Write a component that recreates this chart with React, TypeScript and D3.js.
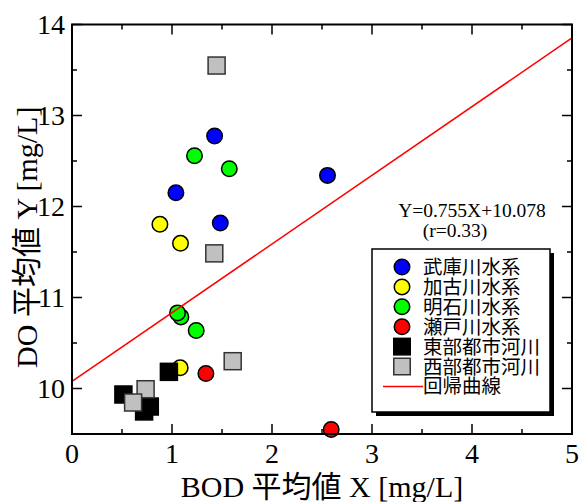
import React from "react";
import * as d3 from "d3";

const seriesNames = ["武庫川水系", "加古川水系", "明石川水系", "瀬戸川水系", "東部都市河川", "西部都市河川"];
const seriesColors = ["#0000ff", "#ffff00", "#00ff00", "#ff0000", "#000000", "#c0c0c0"];
const seriesShapes = ["circle", "circle", "circle", "circle", "square", "square"];

const mukoX = [1.426, 1.039, 1.483, 2.555];
const mukoY = [12.774, 12.151, 11.819, 12.342];
const kakoX = [0.879, 1.085, 1.082];
const kakoY = [11.804, 11.595, 10.227];
const akashiX = [1.225, 1.573, 1.089, 1.055, 1.242];
const akashiY = [12.558, 12.415, 10.787, 10.831, 10.637];
const setoX = [1.339, 2.592];
const setoY = [10.165, 9.55];
const eastX = [0.969, 0.514, 0.778, 0.721];
const eastY = [10.183, 9.934, 9.802, 9.748];
const westX = [1.446, 1.423, 1.607, 0.736, 0.611];
const westY = [13.549, 11.485, 10.3, 9.992, 9.846];

const seriesX = [mukoX, kakoX, akashiX, setoX, eastX, westX];
const seriesY = [mukoY, kakoY, akashiY, setoY, eastY, westY];

const slope = 0.755;
const intercept = 10.078;
const regLabel = "Y=0.755X+10.078";
const rLabel = "(r=0.33)";
const lineLabel = "回帰曲線";

const xTicks = [0, 1, 2, 3, 4, 5];
const yTicks = [10, 11, 12, 13, 14];
const xMinor = [0.5, 1.5, 2.5, 3.5, 4.5];
const yMinor = [10.5, 11.5, 12.5, 13.5];

const xTitle = "BOD 平均値 X [mg/L]";
const yTitle = "DO 平均値 Y [mg/L]";

const FONT = "'Liberation Serif', 'Times New Roman', 'Noto Sans CJK JP', serif";

export default function App() {
  const W = 579, H = 502;
  const L = 72, R = 572, T = 24.5, B = 434;
  const x = d3.scaleLinear().domain([0, 5]).range([L, R]);
  const y = d3.scaleLinear().domain([9.5, 14]).range([B, T]);
  const MR = 8.5;
  const SQ = 17;

  const lineGen = d3.line<number>().x((d) => x(d)).y((d) => y(slope * d + intercept));

  const marker = (shape: string, color: string, cx: number, cy: number, r: number, s: number, key: string) =>
    shape === "circle" ? (
      <circle key={key} cx={cx} cy={cy} r={r - 0.75} fill={color} stroke="#000" strokeWidth={1.5} />
    ) : (
      <rect key={key} x={cx - s / 2} y={cy - s / 2} width={s} height={s} fill={color} stroke={color === "#000000" ? "#000" : "#333"} strokeWidth={1.5} />
    );

  const legX = 372, legY = 249, legW = 178, legH = 163;
  const rowY0 = 267, rowDY = 19.9;

  return (
    <svg width={W} height={H} style={{ position: "absolute", left: 0, top: 0, background: "#fff" }} fontFamily={FONT}>
      <rect x={0} y={0} width={W} height={H} fill="#fff" />
      {/* markers */}
      {seriesX.map((xs, si) =>
        xs.map((xv, i) => marker(seriesShapes[si], seriesColors[si], x(xv), y(seriesY[si][i]), MR, SQ, `m${si}-${i}`))
      )}
      {/* regression line */}
      <path d={lineGen([0, 5]) || ""} fill="none" stroke="#ff0000" strokeWidth={1.5} />
      {/* axes frame */}
      <rect x={L} y={T} width={R - L} height={B - T} fill="none" stroke="#000" strokeWidth={2} />
      {/* ticks */}
      {xTicks.map((t) => (
        <g key={`xt${t}`}>
          <line x1={x(t)} x2={x(t)} y1={B} y2={B - 10} stroke="#000" strokeWidth={1.5} />
          <line x1={x(t)} x2={x(t)} y1={T} y2={T + 10} stroke="#000" strokeWidth={1.5} />
          <text x={x(t)} y={B + 29} fontSize={28} textAnchor="middle">{t}</text>
        </g>
      ))}
      {xMinor.map((t) => (
        <g key={`xm${t}`}>
          <line x1={x(t)} x2={x(t)} y1={B} y2={B - 5} stroke="#000" strokeWidth={1.5} />
          <line x1={x(t)} x2={x(t)} y1={T} y2={T + 5} stroke="#000" strokeWidth={1.5} />
        </g>
      ))}
      {yTicks.map((t) => (
        <g key={`yt${t}`}>
          <line x1={L} x2={L + 10} y1={y(t)} y2={y(t)} stroke="#000" strokeWidth={1.5} />
          <line x1={R} x2={R - 10} y1={y(t)} y2={y(t)} stroke="#000" strokeWidth={1.5} />
          <text x={65} y={y(t) + 9.5} fontSize={28} textAnchor="end">{t}</text>
        </g>
      ))}
      {yMinor.map((t) => (
        <g key={`ym${t}`}>
          <line x1={L} x2={L + 5} y1={y(t)} y2={y(t)} stroke="#000" strokeWidth={1.5} />
          <line x1={R} x2={R - 5} y1={y(t)} y2={y(t)} stroke="#000" strokeWidth={1.5} />
        </g>
      ))}
      {/* axis titles */}
      <text x={(L + R) / 2} y={497} fontSize={30} textAnchor="middle">{xTitle}</text>
      <text transform={`translate(37, ${(T + B) / 2 + 8}) rotate(-90)`} fontSize={30} textAnchor="middle">{yTitle}</text>
      {/* equation */}
      <text x={472} y={217} fontSize={19.5} textAnchor="middle">{regLabel}</text>
      <text x={455} y={237} fontSize={19.5} textAnchor="middle">{rLabel}</text>
      {/* legend */}
      <rect x={legX + 4} y={legY + 4} width={legW} height={legH} fill="#000" />
      <rect x={legX} y={legY} width={legW} height={legH} fill="#fff" stroke="#000" strokeWidth={1.5} />
      {seriesNames.map((n, i) => (
        <g key={`lg${i}`}>
          {marker(seriesShapes[i], seriesColors[i], 402, rowY0 + i * rowDY, 8.5, 16.5, `lm${i}`)}
          <text x={423} y={rowY0 + i * rowDY + 7} fontSize={19.5}>{n}</text>
        </g>
      ))}
      <line x1={383} x2={423} y1={rowY0 + 6 * rowDY} y2={rowY0 + 6 * rowDY} stroke="#ff0000" strokeWidth={1.5} />
      <text x={423} y={rowY0 + 6 * rowDY + 7} fontSize={19.5}>{lineLabel}</text>
    </svg>
  );
}
